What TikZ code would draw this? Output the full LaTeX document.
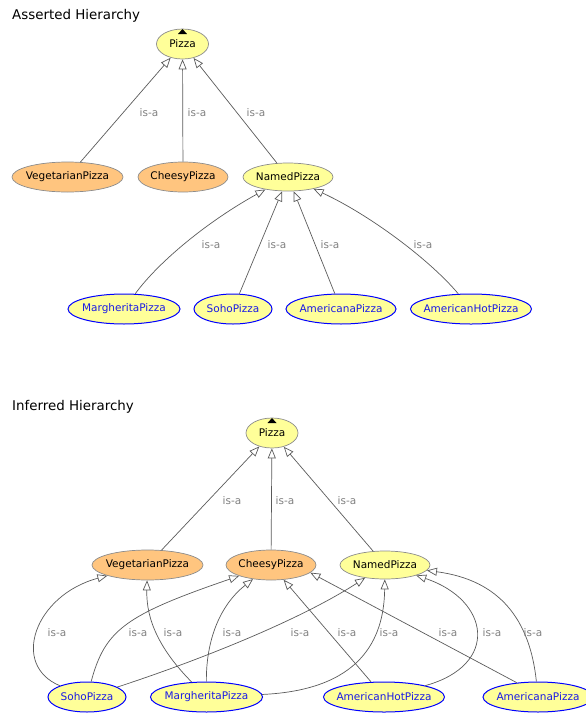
\documentclass[tikz,border=0pt]{standalone}
\usepackage{fontspec}
\setmainfont{DejaVu Sans}
\usetikzlibrary{shapes.geometric,arrows.meta}
\definecolor{nyellow}{HTML}{FFFF99}
\definecolor{norange}{HTML}{FFC57F}
\definecolor{nborder}{HTML}{8C8C8C}
\definecolor{nblue}{HTML}{0000FF}
\definecolor{ntextblue}{HTML}{1A1AE6}
\definecolor{lblgray}{HTML}{808080}
\definecolor{edgegray}{HTML}{5A5A5A}
\begin{document}
\begin{tikzpicture}[x=1pt,y=-1pt,
  cls/.style={ellipse, inner xsep=-40pt, inner ysep=0pt, minimum height=30pt, draw=nborder, line width=0.7pt,
    font=\fontsize{10.5}{12}\selectfont},
  yel/.style={cls, fill=nyellow},
  org/.style={cls, fill=norange},
  leaf/.style={cls, fill=nyellow, draw=nblue, line width=1pt, text=ntextblue},
  isa/.style={draw=edgegray, line width=0.7pt, -{Triangle[fill=white, length=10pt, width=8pt]}},
  lbl/.style={text=lblgray, font=\fontsize{10.5}{12}\selectfont, inner sep=0pt},
  ttl/.style={font=\fontsize{13.4}{16}\selectfont, anchor=west, inner sep=0pt},
  topmark/.style={fill=black}]
\useasboundingbox (0,0) rectangle (586,713);

% ---------- Asserted ----------
\node[ttl] (t1) at (12,16) {Asserted Hierarchy};
\node[yel, minimum width=52pt] (aPizza) at (182.5,44) {Pizza};
\node[org, minimum width=111pt] (aVeg) at (67.5,177) {VegetarianPizza};
\node[org, minimum width=90pt] (aCheesy) at (183,177) {CheesyPizza};
\node[yel, minimum width=90pt, minimum height=28pt] (aNamed) at (288,177) {NamedPizza};
\node[leaf, minimum width=112pt] (aMarg) at (124,309) {MargheritaPizza};
\node[leaf, minimum width=78pt] (aSoho) at (233,309) {SohoPizza};
\node[leaf, minimum width=110pt] (aAmericana) at (341,309) {AmericanaPizza};
\node[leaf, minimum width=121pt] (aAmHot) at (471,309) {AmericanHotPizza};
\fill[topmark] (178,34) -- (187,34) -- (182.5,29) -- cycle;

\draw[isa] (aVeg) -- (aPizza);
\draw[isa] (aCheesy) -- (aPizza);
\draw[isa] (aNamed) -- (aPizza);
\draw[isa] (aMarg) .. controls (160,260) and (210,220) .. (aNamed);
\draw[isa] (aSoho) -- (aNamed);
\draw[isa] (aAmericana) -- (aNamed);
\draw[isa] (aAmHot) .. controls (430,260) and (370,215) .. (aNamed);

\node[lbl] (la1) at (149,113) {is-a};
\node[lbl] (la2) at (197,113) {is-a};
\node[lbl] (la3) at (256,113) {is-a};
\node[lbl] (la4) at (211,245) {is-a};
\node[lbl] (la5) at (277,245) {is-a};
\node[lbl] (la6) at (330,245) {is-a};
\node[lbl] (la7) at (423,245) {is-a};

% ---------- Inferred ----------
\node[ttl] (t2) at (12,407) {Inferred Hierarchy};
\node[yel, minimum width=52pt] (iPizza) at (272,433) {Pizza};
\node[org, minimum width=111pt] (iVeg) at (147.5,565) {VegetarianPizza};
\node[org, minimum width=90pt] (iCheesy) at (271,565) {CheesyPizza};
\node[yel, minimum width=90pt, minimum height=28pt] (iNamed) at (385,565) {NamedPizza};
\node[leaf, minimum width=78pt] (iSoho) at (87,697) {SohoPizza};
\node[leaf, minimum width=112pt] (iMarg) at (206.5,697) {MargheritaPizza};
\node[leaf, minimum width=121pt] (iAmHot) at (384,697) {AmericanHotPizza};
\node[leaf, minimum width=110pt] (iAmericana) at (538,697) {AmericanaPizza};
\fill[topmark] (267.5,423) -- (276.5,423) -- (272,418) -- cycle;

\draw[isa] (iVeg) -- (iPizza);
\draw[isa] (iCheesy) -- (iPizza);
\draw[isa] (iNamed) -- (iPizza);

\draw[isa] (iSoho) .. controls (10,665) and (35,595) .. (iVeg);
\draw[isa] (iSoho) .. controls (105,630) and (125,615) .. (iCheesy);
\draw[isa] (iMarg) .. controls (160,650) and (146,620) .. (iVeg);
\draw[isa] (iMarg) .. controls (206,640) and (220,605) .. (iCheesy);
\draw[isa] (iSoho) .. controls (200,660) and (300,620) .. (iNamed);
\draw[isa] (iAmHot) -- (iCheesy);
\draw[isa] (iMarg) .. controls (360,690) and (384,640) .. (iNamed);
\draw[isa] (iAmericana.146) -- (iCheesy.-11);
\draw[isa] (iAmHot) .. controls (500,665) and (490,600) .. (iNamed);
\draw[isa] (iAmericana) .. controls (530,620) and (500,580) .. (iNamed);

\node[lbl] (lb1) at (232,501) {is-a};
\node[lbl] (lb2) at (285,501) {is-a};
\node[lbl] (lb3) at (347,501) {is-a};
\node[lbl] (lc1) at (57,633) {is-a};
\node[lbl] (lc2) at (138,633) {is-a};
\node[lbl] (lc3) at (173,633) {is-a};
\node[lbl] (lc4) at (232,633) {is-a};
\node[lbl] (lc5) at (300,633) {is-a};
\node[lbl] (lc6) at (347,633) {is-a};
\node[lbl] (lc7) at (389,633) {is-a};
\node[lbl] (lc8) at (448,633) {is-a};
\node[lbl] (lc9) at (492,633) {is-a};
\node[lbl] (lc10) at (533,633) {is-a};
\end{tikzpicture}
\end{document}
